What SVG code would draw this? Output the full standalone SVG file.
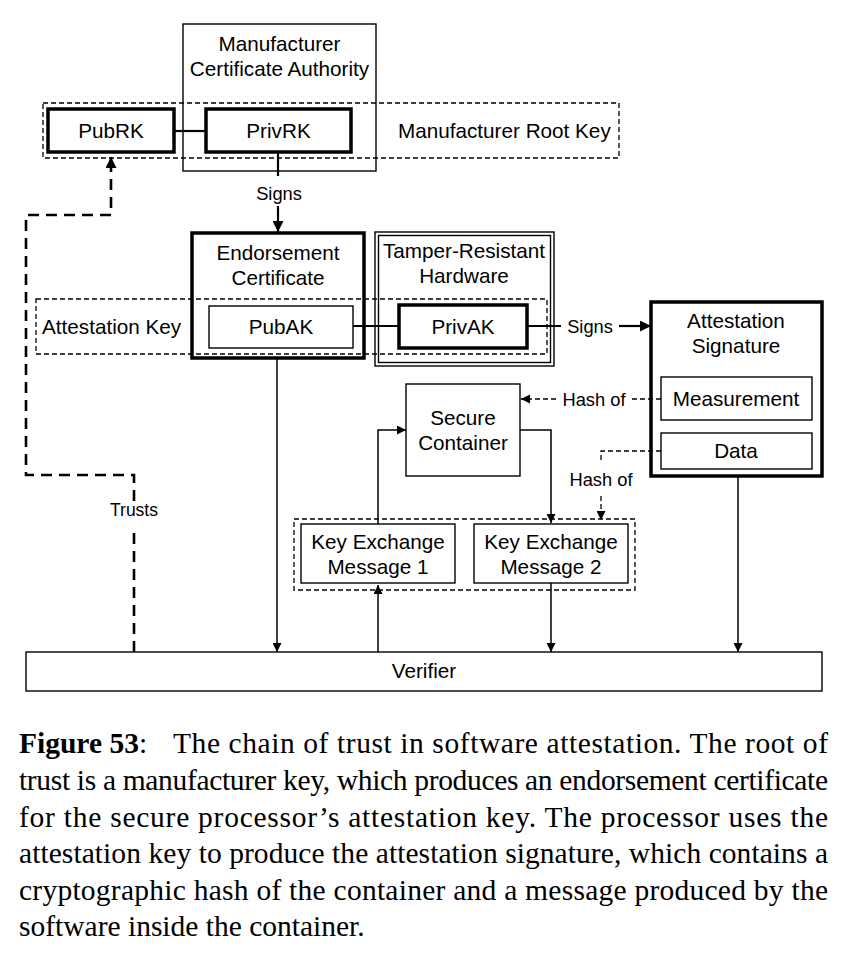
<svg xmlns="http://www.w3.org/2000/svg" width="852" height="958" viewBox="0 0 852 958">
<style>
  .lbl { font-family: "Liberation Sans", Arial, Helvetica, sans-serif; font-size: 20.7px; fill: #000; text-anchor: middle; }
  .sm { font-family: "Liberation Sans", Arial, Helvetica, sans-serif; font-size: 18.3px; fill: #000; text-anchor: middle; }
  .thin { fill: #fff; stroke: #000; stroke-width: 1.4; }
  .thick { fill: #fff; stroke: #000; stroke-width: 3.5; }
  .grp { fill: none; stroke: #000; stroke-width: 1.3; stroke-dasharray: 5 3; }
  .con { fill: none; stroke: #000; stroke-width: 1.5; }
  .con2 { fill: none; stroke: #000; stroke-width: 2.2; }
  .hash { fill: none; stroke: #000; stroke-width: 1.3; stroke-dasharray: 5 3; }
  .trust { fill: none; stroke: #000; stroke-width: 2.6; stroke-dasharray: 11 7; }
  .cap { font-family: "Liberation Serif", "Times New Roman", Times, serif; font-size: 29.5px; fill: #000; }
</style>
<defs>
  <marker id="ah" viewBox="0 0 10 10" refX="10" refY="5" markerUnits="userSpaceOnUse" markerWidth="10" markerHeight="9" orient="auto">
    <path d="M0,0 L10,5 L0,10 z" fill="#000"/>
  </marker>
  <marker id="ahb" viewBox="0 0 10 10" refX="10" refY="5" markerUnits="userSpaceOnUse" markerWidth="12" markerHeight="11" orient="auto">
    <path d="M0,0 L10,5 L0,10 z" fill="#000"/>
  </marker>
</defs>

<!-- groups / containers -->
<g id="manufacturer-ca">
  <rect class="thin" x="183" y="24" width="193" height="147" style="fill:none"/>
  <text class="lbl" x="279.5" y="51">Manufacturer</text>
  <text class="lbl" x="279.5" y="76">Certificate Authority</text>
</g>
<g id="root-key-group">
  <rect class="grp" x="43" y="103" width="576" height="55"/>
  <text class="lbl" x="398" y="138" style="text-anchor:start">Manufacturer Root Key</text>
</g>
<g id="pubrk">
  <rect class="thick" x="48" y="109" width="126" height="43"/>
  <text class="lbl" x="111" y="138">PubRK</text>
</g>
<g id="privrk">
  <rect class="thick" x="206" y="109" width="145" height="43"/>
  <text class="lbl" x="278.5" y="138">PrivRK</text>
</g>

<g id="endorsement-certificate">
  <rect class="thick" x="192" y="233" width="172" height="125"/>
  <text class="lbl" x="278" y="260">Endorsement</text>
  <text class="lbl" x="278" y="285">Certificate</text>
</g>
<g id="tamper-resistant-hardware">
  <rect class="thin" x="375" y="232" width="179" height="134"/>
  <rect class="thin" x="378.5" y="235.5" width="172" height="127"/>
  <text class="lbl" x="464" y="258">Tamper-Resistant</text>
  <text class="lbl" x="464" y="283">Hardware</text>
</g>
<g id="attestation-key-group">
  <rect class="grp" x="36" y="299" width="511" height="55"/>
  <text class="lbl" x="42" y="334" style="text-anchor:start">Attestation Key</text>
</g>
<g id="pubak">
  <rect class="thin" x="209" y="306" width="144" height="42"/>
  <text class="lbl" x="281" y="334">PubAK</text>
</g>
<g id="privak">
  <rect class="thick" x="399" y="305" width="128" height="43"/>
  <text class="lbl" x="463" y="334">PrivAK</text>
</g>

<g id="attestation-signature">
  <rect class="thick" x="651" y="302" width="171" height="174"/>
  <text class="lbl" x="736" y="328">Attestation</text>
  <text class="lbl" x="736" y="353">Signature</text>
</g>
<g id="measurement">
  <rect class="thin" x="661" y="377" width="151" height="43"/>
  <text class="lbl" x="736" y="406">Measurement</text>
</g>
<g id="data">
  <rect class="thin" x="661" y="433" width="151" height="36"/>
  <text class="lbl" x="736" y="458">Data</text>
</g>

<g id="secure-container">
  <rect class="thin" x="406" y="384" width="114" height="92"/>
  <text class="lbl" x="463" y="425">Secure</text>
  <text class="lbl" x="463" y="450">Container</text>
</g>
<g id="key-exchange-group">
  <rect class="grp" x="294" y="519" width="341" height="71"/>
</g>
<g id="key-exchange-1">
  <rect class="thin" x="301" y="524" width="154" height="59"/>
  <text class="lbl" x="378" y="549">Key Exchange</text>
  <text class="lbl" x="378" y="574">Message 1</text>
</g>
<g id="key-exchange-2">
  <rect class="thin" x="474" y="524" width="154" height="59"/>
  <text class="lbl" x="551" y="549">Key Exchange</text>
  <text class="lbl" x="551" y="574">Message 2</text>
</g>

<g id="verifier">
  <rect class="thin" x="26" y="652" width="796" height="39"/>
  <text class="lbl" x="424" y="678">Verifier</text>
</g>

<!-- connectors -->
<g id="connectors">
  <line class="con2" x1="174" y1="131" x2="206" y2="131"/>
  <line class="con2" x1="278" y1="152" x2="278" y2="176"/>
  <text class="sm" x="279" y="200">Signs</text>
  <line class="con2" x1="278" y1="206" x2="278" y2="232" marker-end="url(#ahb)"/>

  <line class="con2" x1="353" y1="326" x2="399" y2="326"/>
  <line class="con2" x1="527" y1="326" x2="561" y2="326"/>
  <text class="sm" x="590" y="333">Signs</text>
  <line class="con2" x1="619" y1="326" x2="651" y2="326" marker-end="url(#ahb)"/>

  <line class="hash" x1="661" y1="399" x2="632" y2="399"/>
  <text class="sm" x="594" y="406">Hash of</text>
  <line class="hash" x1="556" y1="399" x2="521" y2="399" marker-end="url(#ah)"/>

  <path class="hash" d="M661,451 H601 V463"/>
  <text class="sm" x="601" y="486">Hash of</text>
  <line class="hash" x1="601" y1="496" x2="601" y2="520" marker-end="url(#ah)"/>

  <path class="con" d="M520,430 H551 V523" marker-end="url(#ah)"/>
  <path class="con" d="M378,524 V430 H406" marker-end="url(#ah)"/>

  <line class="con" x1="277" y1="358" x2="277" y2="652" marker-end="url(#ah)"/>
  <line class="con" x1="551" y1="583" x2="551" y2="652" marker-end="url(#ah)"/>
  <line class="con" x1="738" y1="476" x2="738" y2="652" marker-end="url(#ah)"/>
  <line class="con" x1="378" y1="652" x2="378" y2="585" marker-end="url(#ah)"/>

  <line class="trust" x1="134" y1="652" x2="134" y2="532"/>
  <text class="sm" x="134" y="516" style="font-size:17.5px">Trusts</text>
  <path class="trust" d="M134,501 V475 H26 V215 H111 V168"/>
  <line x1="111" y1="168" x2="111" y2="157" stroke="#000" stroke-width="2.6" marker-end="url(#ahb)"/>
</g>

<!-- caption -->
<g id="caption">
  <text class="cap" x="19" y="753"><tspan font-weight="bold">Figure 53</tspan>:</text>
  <text class="cap" x="173" y="753" textLength="655" lengthAdjust="spacing">The chain of trust in software attestation. The root of</text>
  <text class="cap" x="19" y="790" textLength="809" lengthAdjust="spacing">trust is a manufacturer key, which produces an endorsement certificate</text>
  <text class="cap" x="19" y="827" textLength="809" lengthAdjust="spacing">for the secure processor’s attestation key. The processor uses the</text>
  <text class="cap" x="19" y="863" textLength="809" lengthAdjust="spacing">attestation key to produce the attestation signature, which contains a</text>
  <text class="cap" x="19" y="900" textLength="809" lengthAdjust="spacing">cryptographic hash of the container and a message produced by the</text>
  <text class="cap" x="19" y="936">software inside the container.</text>
</g>
</svg>
